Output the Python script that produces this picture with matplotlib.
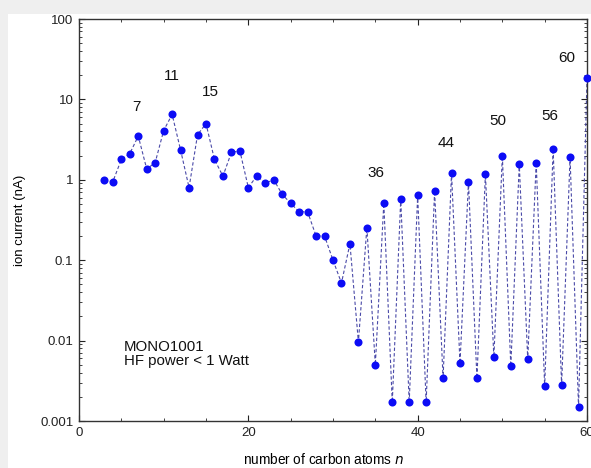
import matplotlib.pyplot as plt
from matplotlib.patches import Rectangle
from matplotlib.ticker import MultipleLocator, LogLocator, FixedLocator

plt.rcParams['font.family'] = ['Liberation Sans', 'DejaVu Sans']

# ion current (nA) for carbon clusters C_n, n = 3 .. 60
n = list(range(3, 61))
current = [1.0, 0.95, 1.79, 2.12, 3.5, 1.36, 1.64, 4.1, 6.5, 2.34,
           0.80, 3.63, 5.0, 1.79, 1.11, 2.19, 2.29, 0.80, 1.12, 0.91,
           1.0, 0.66, 0.51, 0.40, 0.40, 0.20, 0.20, 0.10, 0.052, 0.16,
           0.0096, 0.255, 0.0050, 0.51, 0.0017, 0.575, 0.0017, 0.64, 0.0017, 0.73,
           0.0034, 1.21, 0.0052, 0.94, 0.0034, 1.18, 0.0062, 1.99, 0.0048, 1.57,
           0.0059, 1.64, 0.0027, 2.43, 0.0028, 1.91, 0.0015, 18.2]

# labelled cluster sizes and where their labels sit
peak_n = [7, 11, 15, 36, 44, 50, 56, 60]
peak_label_x = [6.8, 11.0, 15.5, 35.1, 43.4, 49.5, 55.6, 57.6]
peak_label_y = [8.0, 19.3, 12.5, 1.23, 2.86, 5.42, 6.3, 32.6]

fig = plt.figure(figsize=(5.91, 4.68), dpi=100)
fig.patch.set_facecolor('#efefef')
fig.patches.append(Rectangle((8 / 591, 0), 1, 1 - 14 / 468, transform=fig.transFigure,
                             facecolor='white', edgecolor='none', zorder=-5))

ax = fig.add_axes([79 / 591, 1 - 421 / 468, (587 - 79) / 591, (421 - 19) / 468])
ax.set_zorder(2)
ax.set_yscale('log')
ax.set_xlim(0, 60)
ax.set_ylim(0.001, 100)

ax.plot(n, current, linestyle='--', linewidth=0.8, color='#4a4aa8',
        dashes=(3, 2), zorder=2)
ax.plot(n, current, linestyle='none', marker='o', markersize=5.8,
        color='#0c0cf5', markeredgewidth=0, zorder=3, clip_on=False)

for p, lx, ly in zip(peak_n, peak_label_x, peak_label_y):
    ax.text(lx, ly, str(p), ha='center', va='center', fontsize=11, color='#111111')

ax.text(5.3, 0.0069, 'MONO1001\nHF power < 1 Watt', fontsize=10.8,
        va='center', ha='left', linespacing=1.0, color='#111111')

ax.xaxis.set_major_locator(FixedLocator([0, 20, 40, 60]))
ax.xaxis.set_minor_locator(MultipleLocator(5))
ax.set_yticks([0.001, 0.01, 0.1, 1, 10, 100])
ax.set_yticklabels(['0.001', '0.01', '0.1', '1', '10', '100'])
ax.yaxis.set_minor_locator(LogLocator(base=10, subs=range(2, 10), numticks=20))
ax.set_xticklabels(['0', '20', '40', '60'])

ax.tick_params(which='both', direction='in', top=True, right=True,
               labelsize=9.5, colors='#222222')
ax.tick_params(which='major', length=4, width=0.8, pad=4)
ax.tick_params(which='minor', length=2, width=0.6)
for s in ax.spines.values():
    s.set_linewidth(1.0)
    s.set_color('#333333')

ax.set_xlabel('number of carbon atoms $\\it{n}$', fontsize=9.8)
ax.xaxis.set_label_coords((324 - 79) / (587 - 79), -0.077)
ax.set_ylabel('ion current (nA)', fontsize=9.5, labelpad=10)

fig.savefig('out.png', dpi=100, facecolor=fig.get_facecolor())
